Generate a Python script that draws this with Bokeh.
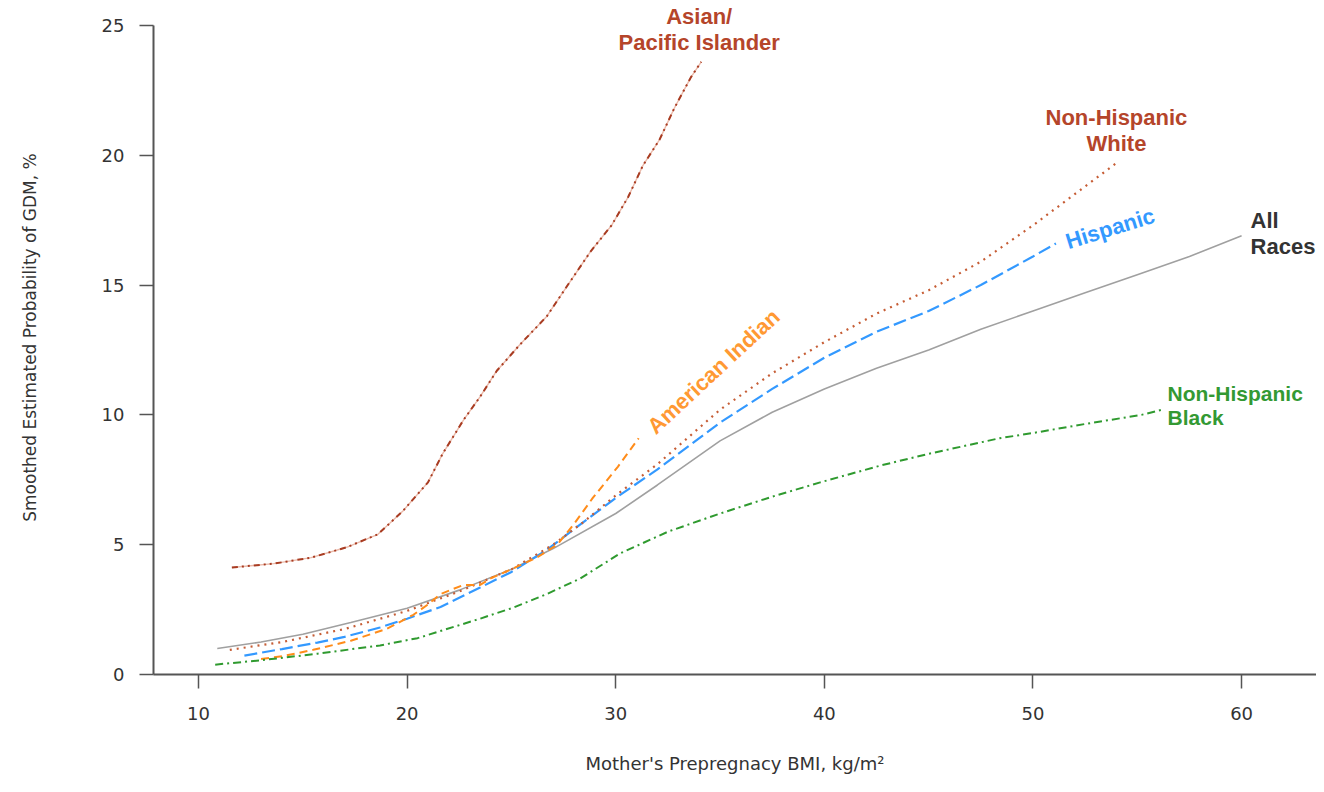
from bokeh.plotting import figure
from bokeh.models import Range1d, ColumnDataSource, FixedTicker
from bokeh.core.properties import value
from bokeh.embed import file_html
from bokeh.resources import INLINE

# ---- data ----
all_x = [10.9, 13, 15, 17.3, 20, 22.5, 25, 27, 30, 32, 35, 37.5, 40, 42.5, 45, 47.5, 50, 52.5, 55, 57.5, 60]
all_y = [1.0, 1.25, 1.55, 2.0, 2.55, 3.25, 4.05, 4.85, 6.2, 7.3, 9.0, 10.1, 11.0, 11.8, 12.5, 13.3, 14.0, 14.7, 15.4, 16.1, 16.9]

hisp_x = [12.2, 14, 15.7, 17, 18.7, 20, 21.6, 23.5, 25, 26.7, 28, 30, 32, 35, 37.5, 40, 42.5, 45, 47.5, 50, 51.1]
hisp_y = [0.73, 0.98, 1.23, 1.45, 1.81, 2.15, 2.6, 3.35, 3.95, 4.8, 5.6, 6.8, 7.9, 9.7, 11.0, 12.2, 13.2, 14.0, 15.0, 16.1, 16.6]

nhw_x = [11.5, 14, 17, 20, 22.5, 25, 27, 28.5, 30, 32, 35, 37.5, 40, 42.5, 45, 47.5, 50, 52, 54]
nhw_y = [0.95, 1.25, 1.75, 2.45, 3.2, 4.05, 5.0, 5.9, 6.9, 8.1, 10.2, 11.6, 12.8, 13.9, 14.8, 15.9, 17.3, 18.5, 19.7]

ai_x = [13.0, 14, 15.5, 17.3, 19, 20.3, 21.0, 21.6, 22.7, 23.5, 24, 25.4, 26.2, 27.2, 28, 28.9, 30.1, 31.1]
ai_y = [0.6, 0.7, 0.95, 1.3, 1.75, 2.3, 2.7, 3.1, 3.45, 3.45, 3.7, 4.2, 4.5, 5.0, 5.8, 6.8, 8.0, 9.1]

asian_x = [11.6, 13.6, 15.4, 17.1, 18.6, 19.8, 21.0, 21.7, 22.7, 23.5, 24.3, 25.4, 26.7, 27.7, 28.8, 29.8, 30.6, 31.3, 32.1, 32.8, 33.6, 34.1]
asian_y = [4.12, 4.27, 4.5, 4.9, 5.4, 6.3, 7.4, 8.5, 9.8, 10.7, 11.7, 12.7, 13.8, 15.0, 16.3, 17.3, 18.4, 19.6, 20.6, 21.8, 23.0, 23.6]

nhb_x = [10.8, 13, 15.7, 18.7, 20.5, 21.9, 23.5, 25.1, 26.7, 28.3, 30.2, 32.5, 35, 37.5, 39.8, 42.7, 45, 48.4, 50, 52.5, 55.2, 56.2]
nhb_y = [0.38, 0.55, 0.8, 1.12, 1.4, 1.75, 2.15, 2.58, 3.1, 3.7, 4.66, 5.5, 6.2, 6.85, 7.4, 8.05, 8.5, 9.1, 9.3, 9.65, 10.0, 10.2]

x_ticks = [10, 20, 30, 40, 50, 60]
y_ticks = [0, 5, 10, 15, 20, 25]

label_text = ["Asian/\nPacific Islander", "Non-Hispanic\nWhite", "Hispanic", "All\nRaces",
              "Non-Hispanic\nBlack", "American Indian"]
label_x = [34.0, 54.0, 53.7, 60.43, 56.45, 34.69]
label_y = [24.85, 20.95, 17.18, 17.0, 10.36, 11.67]
label_angle = [0.0, 0.0, 0.30, 0.0, 0.0, 0.75]
label_color = ["#b5452a", "#b5452a", "#3399ff", "#333333", "#339933", "#ff9933"]
label_align = ["center", "center", "center", "left", "left", "center"]
label_size = ["22px", "22px", "22px", "22px", "21px", "22px"]

# ---- figure ----
p = figure(width=1316, height=776,
           x_range=Range1d(7.843, 63.59), y_range=Range1d(0, 25.96),
           output_backend="svg", toolbar_location=None,
           min_border_left=153, min_border_right=0, min_border_top=0, min_border_bottom=102)
p.outline_line_color = None
p.grid.visible = False
p.background_fill_color = "white"
p.border_fill_color = "white"

p.line(all_x, all_y, line_color="#a0a0a0", line_width=1.6)
p.line(hisp_x, hisp_y, line_color="#3399ff", line_width=2.2, line_dash="13 5")
p.line(nhw_x, nhw_y, line_color="#c65d35", line_width=2.2, line_dash="2 5")
p.line(ai_x, ai_y, line_color="#ff8c1a", line_width=2.0, line_dash="8 5")
p.line(asian_x, asian_y, line_color="#eab9a9", line_width=1.4)
p.line(asian_x, asian_y, line_color="#a83c22", line_width=2.0, line_dash="6 4 2 4 2 4")
p.line(nhb_x, nhb_y, line_color="#2f9a2f", line_width=2.0, line_dash="8 4 2 4")

src = ColumnDataSource(dict(x=label_x, y=label_y, text=label_text, angle=label_angle,
                            color=label_color, align=label_align, size=label_size))
p.text(x="x", y="y", text="text", angle="angle", text_color="color", text_align="align",
       text_font_size="size", text_baseline="middle", source=src,
       text_font=value("Liberation Sans"), text_font_style="bold", text_line_height=1.05)

# ---- axes ----
for ax in (p.xaxis[0], p.yaxis[0]):
    ax.axis_line_color = "#555555"
    ax.axis_line_width = 2
    ax.major_tick_line_color = "#555555"
    ax.major_tick_line_width = 1.5
    ax.major_tick_in = 0
    ax.major_tick_out = 14
    ax.minor_tick_line_color = None
    ax.major_label_text_font = "DejaVu Sans"
    ax.major_label_text_font_size = "18px"
    ax.major_label_text_color = "#333333"
    ax.axis_label_text_font = "DejaVu Sans"
    ax.axis_label_text_font_style = "normal"
    ax.axis_label_text_color = "#333333"

p.xaxis.ticker = FixedTicker(ticks=x_ticks)
p.yaxis.ticker = FixedTicker(ticks=y_ticks)
p.yaxis.bounds = (0, 25)
p.xaxis.major_label_standoff = 18
p.yaxis.major_label_standoff = 15
p.xaxis.axis_label = "Mother's Prepregnacy BMI, kg/m²"
p.xaxis.axis_label_text_font_size = "18px"
p.xaxis.axis_label_standoff = 30
p.yaxis.axis_label = "Smoothed Estimated Probability of GDM, %"
p.yaxis.axis_label_text_font_size = "17px"
p.yaxis.axis_label_standoff = 59

open("out.html", "w").write(file_html(p, INLINE))
